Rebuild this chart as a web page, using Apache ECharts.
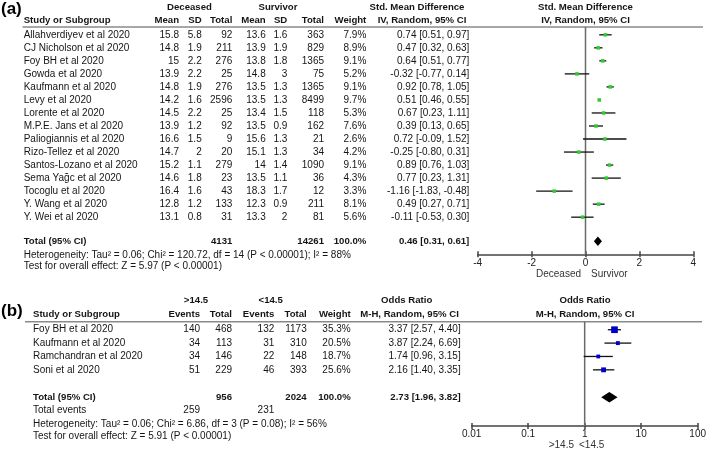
<!DOCTYPE html>
<html><head><meta charset="utf-8">
<script src="https://cdn.jsdelivr.net/npm/echarts@6/dist/echarts.min.js"></script>
<style>html,body{margin:0;padding:0;background:#fff}#c{width:709px;height:453px}</style>
</head><body><div id="c"></div>
<script>
// ---------- Panel (a) data ----------
const studiesA = ["Allahverdiyev et al 2020","CJ Nicholson et al 2020","Foy BH et al 2020","Gowda et al 2020","Kaufmann et al 2020","Levy et al 2020","Lorente et al 2020","M.P.E. Jans et al 2020","Paliogiannis et al 2020","Rizo-Tellez et al 2020","Santos-Lozano et al 2020","Sema Yağc et al 2020","Tocoglu et al 2020","Y. Wang et al 2020","Y. Wei et al 2020"];
const decMean  = [15.8,14.8,15,13.9,14.8,14.2,14.5,13.9,16.6,14.7,15.2,14.6,16.4,12.8,13.1];
const decSD    = [5.8,1.9,2.2,2.2,1.9,1.6,2.2,1.2,1.5,2,1.1,1.8,1.6,1.2,0.8];
const decTotal = [92,211,276,25,276,2596,25,92,9,20,279,23,43,133,31];
const surMean  = [13.6,13.9,13.8,14.8,13.5,13.5,13.4,13.5,15.6,15.1,14,13.5,18.3,12.3,13.3];
const surSD    = [1.6,1.9,1.8,3,1.3,1.3,1.5,0.9,1.3,1.3,1.4,1.1,1.7,0.9,2];
const surTotal = [363,829,1365,75,1365,8499,118,162,21,34,1090,36,12,211,81];
const weightA  = [7.9,8.9,9.1,5.2,9.1,9.7,5.3,7.6,2.6,4.2,9.1,4.3,3.3,8.1,5.6];
const smd      = [0.74,0.47,0.64,-0.32,0.92,0.51,0.67,0.39,0.72,-0.25,0.89,0.77,-1.16,0.49,-0.11];
const smdLo    = [0.51,0.32,0.51,-0.77,0.78,0.46,0.23,0.13,-0.09,-0.80,0.76,0.23,-1.83,0.27,-0.53];
const smdHi    = [0.97,0.63,0.77,0.14,1.05,0.55,1.11,0.65,1.52,0.31,1.03,1.31,-0.48,0.71,0.30];
const totalDecA = 4131, totalSurA = 14261, totalWeightA = 100.0;
const pooledA = [0.46, 0.31, 0.61];
const hetA = "Heterogeneity: Tau\u00b2 = 0.06; Chi\u00b2 = 120.72, df = 14 (P < 0.00001); I\u00b2 = 88%";
const testA = "Test for overall effect: Z = 5.97 (P < 0.00001)";
const ticksA = [-4, -2, 0, 2, 4];
const nullA = 0;

// ---------- Panel (b) data ----------
const studiesB = ["Foy BH et al 2020","Kaufmann et al 2020","Ramchandran et al 2020","Soni et al 2020"];
const hiEvents = [140,34,34,51];
const hiTotal  = [468,113,146,229];
const loEvents = [132,31,22,46];
const loTotal  = [1173,310,148,393];
const weightB  = [35.3,20.5,18.7,25.6];
const orVal    = [3.37,3.87,1.74,2.16];
const orLo     = [2.57,2.24,0.96,1.40];
const orHi     = [4.40,6.69,3.15,3.35];
const totalHiB = 956, totalLoB = 2024, totalWeightB = 100.0;
const totalEventsHi = 259, totalEventsLo = 231;
const pooledB = [2.73, 1.96, 3.82];
const hetB = "Heterogeneity: Tau\u00b2 = 0.06; Chi\u00b2 = 6.86, df = 3 (P = 0.08); I\u00b2 = 56%";
const testB = "Test for overall effect: Z = 5.91 (P < 0.00001)";
const ticksB = [0.01, 0.1, 1, 10, 100];
const nullB = 1;

// ---------- layout ----------
const FONT = '"Liberation Sans", Arial, sans-serif';
const TXT = '#151515';
const yMinA = -0.6, yMaxA = 16.85, yMinB = -0.6, yMaxB = 7.2;
const totalRowA = 15.85, hetRowA = 16.95, testRowA = 17.75;
const totalRowB = 5.05, evRowB = 6.05, hetRowB = 7.05, testRowB = 7.98;

const chart = echarts.init(document.getElementById('c'), null, {renderer:'canvas'});

function ciRender(color, sizeFn) {
  return function (params, api) {
    const y = api.value(1);
    const p = api.coord([api.value(0), y]);
    const l = api.coord([api.value(2), y]);
    const h = api.coord([api.value(3), y]);
    const s = sizeFn(api.value(4));
    return {type:'group', children:[
      {type:'line', shape:{x1:l[0], y1:l[1], x2:h[0], y2:h[1]}, style:{stroke:'#111', lineWidth:1.3}},
      {type:'rect', shape:{x:p[0]-s/2, y:p[1]-s/2, width:s, height:s}, style:{fill:color}}
    ]};
  };
}
function diamondRender(halfRows) {
  return function (params, api) {
    const y = api.value(1);
    const c = api.coord([api.value(0), y]);
    const l = api.coord([api.value(2), y]);
    const h = api.coord([api.value(3), y]);
    const t = api.coord([api.value(0), y - halfRows]);
    const b = api.coord([api.value(0), y + halfRows]);
    return {type:'polygon', shape:{points:[[l[0],c[1]],[t[0],t[1]],[h[0],c[1]],[b[0],b[1]]]}, style:{fill:'#000'}};
  };
}

const axisLabelStyle = {color:'#222', fontSize:10, fontFamily:FONT};
const tickStyle = {color:'#444', width:1.5};

const option = {
  animation:false,
  backgroundColor:'#fff',
  grid:[
    {left:477.7, top:27, width:215.6, height:227.3, containLabel:false},
    {left:471.7, top:321.7, width:229, height:104.3, containLabel:false}
  ],
  xAxis:[
    {gridIndex:0, type:'value', position:'bottom', min:ticksA[0], max:ticksA[ticksA.length-1], interval:2,
     axisLine:{show:true, onZero:false, lineStyle:{color:'#444', width:1.5}},
     axisTick:{show:true, inside:false, length:3, lineStyle:tickStyle},
     axisLabel:{...axisLabelStyle, margin:4}, splitLine:{show:false}},
    {gridIndex:0, type:'value', position:'bottom', min:ticksA[0], max:ticksA[ticksA.length-1], interval:2,
     axisLine:{show:false, onZero:false}, axisTick:{show:true, inside:true, length:3, lineStyle:tickStyle},
     axisLabel:{show:false}, splitLine:{show:false}},
    {gridIndex:1, type:'log', logBase:10, position:'bottom', min:ticksB[0], max:ticksB[ticksB.length-1],
     axisLine:{show:true, onZero:false, lineStyle:{color:'#444', width:1.5}},
     axisTick:{show:true, inside:false, length:3, lineStyle:tickStyle},
     axisLabel:{...axisLabelStyle, margin:3, formatter:(v)=>String(+(+v).toPrecision(3))}, splitLine:{show:false}, minorTick:{show:false}},
    {gridIndex:1, type:'log', logBase:10, position:'bottom', min:ticksB[0], max:ticksB[ticksB.length-1],
     axisLine:{show:false, onZero:false}, axisTick:{show:true, inside:true, length:3, lineStyle:tickStyle},
     axisLabel:{show:false}, splitLine:{show:false}}
  ],
  yAxis:[
    {gridIndex:0, type:'value', min:yMinA, max:yMaxA, inverse:true, show:false},
    {gridIndex:1, type:'value', min:yMinB, max:yMaxB, inverse:true, show:false}
  ],
  series:[
    {type:'line', name:'no effect a', xAxisIndex:0, yAxisIndex:0, symbol:'none', silent:true,
     lineStyle:{color:'#6a6a6a', width:1.5}, data:[[nullA, yMinA],[nullA, yMaxA]], z:1},
    {type:'line', name:'no effect b', xAxisIndex:2, yAxisIndex:1, symbol:'none', silent:true,
     lineStyle:{color:'#6a6a6a', width:1.5}, data:[[nullB, yMinB],[nullB, yMaxB]], z:1},
    {type:'custom', name:'SMD', xAxisIndex:0, yAxisIndex:0,
     encode:{x:[0,2,3], y:1},
     renderItem: ciRender('#2ecc2e', (w)=>3.5),
     data: studiesA.map((s,i)=>[smd[i], i, smdLo[i], smdHi[i], weightA[i]]), z:3},
    {type:'custom', name:'SMD total', xAxisIndex:0, yAxisIndex:0,
     encode:{x:[0,2,3], y:1},
     renderItem: diamondRender(0.36),
     data: [[pooledA[0], totalRowA, pooledA[1], pooledA[2]]], z:4},
    {type:'custom', name:'OR', xAxisIndex:2, yAxisIndex:1,
     encode:{x:[0,2,3], y:1},
     renderItem: ciRender('#0000cc', (w)=>Math.max(3.8, w*0.19)),
     data: studiesB.map((s,i)=>[orVal[i], i, orLo[i], orHi[i], weightB[i]]), z:3},
    {type:'custom', name:'OR total', xAxisIndex:2, yAxisIndex:1,
     encode:{x:[0,2,3], y:1},
     renderItem: diamondRender(0.4),
     data: [[pooledB[0], totalRowB, pooledB[1], pooledB[2]]], z:4}
  ]
};
chart.setOption(option);

// ---------- table text ----------
const G = [];
function txt(text, x, y, align, bold, size, color) {
  G.push({type:'text', x:x, y:y, silent:true,
    style:{text:String(text), x:0, y:0, align:align||'left', verticalAlign:'middle',
      font:(bold?'bold ':'') + (size||10) + 'px ' + FONT, fill:color||TXT}});
}
function hline(x1, x2, y) {
  G.push({type:'line', silent:true, shape:{x1:x1, y1:y, x2:x2, y2:y}, style:{stroke:'#8a8a8a', lineWidth:1.5}});
}
const rowA = (r) => chart.convertToPixel({gridIndex:0}, [0, r])[1];
const rowB = (r) => chart.convertToPixel({gridIndex:1}, [1, r])[1];
const f2 = (v) => v.toFixed(2);
const ci = (e,l,h) => f2(e) + ' [' + f2(l) + ', ' + f2(h) + ']';
const pct = (v) => v.toFixed(1) + '%';

// Panel (a)
txt('(a)', 1, 9.5, 'left', true, 17, '#000');
const colA = [179, 201.7, 232.3, 265.7, 287.3, 324, 366.3, 469.3];
const nameXA = 23.7;
txt('Deceased', 189.5, 7.5, 'center', true, 9.6);
txt('Survivor', 278, 7.5, 'center', true, 9.6);
txt('Std. Mean Difference', 417, 7.5, 'center', true, 9.6);
txt('Std. Mean Difference', 585.5, 7.5, 'center', true, 9.6);
const hdrY_A = 20.5;
txt('Study or Subgroup', nameXA, hdrY_A, 'left', true, 9.6);
['Mean','SD','Total','Mean','SD','Total','Weight'].forEach((h,k)=>txt(h, colA[k], hdrY_A, 'right', true, 9.6));
txt('IV, Random, 95% CI', 422, hdrY_A, 'center', true, 9.6);
txt('IV, Random, 95% CI', 585.5, hdrY_A, 'center', true, 9.6);
hline(22.5, 703, 27);
studiesA.forEach((s,i)=>{
  const y = rowA(i);
  txt(s, nameXA, y, 'left');
  const vals = [decMean[i], decSD[i], decTotal[i], surMean[i], surSD[i], surTotal[i], pct(weightA[i]), ci(smd[i], smdLo[i], smdHi[i])];
  vals.forEach((v,k)=>txt(v, colA[k], y, 'right'));
});
let y = rowA(totalRowA);
txt('Total (95% CI)', nameXA, y, 'left', true, 9.6);
txt(totalDecA, colA[2], y, 'right', true, 9.6);
txt(totalSurA, colA[5], y, 'right', true, 9.6);
txt(pct(totalWeightA), colA[6], y, 'right', true, 9.6);
txt(ci(pooledA[0], pooledA[1], pooledA[2]), colA[7], y, 'right', true, 9.6);
txt(hetA, nameXA, rowA(hetRowA), 'left');
txt(testA, nameXA, rowA(testRowA), 'left');
txt('Deceased', 581, 274.5, 'right', false, 10, '#333');
txt('Survivor', 591, 274.5, 'left', false, 10, '#333');

// Panel (b)
txt('(b)', 1, 311, 'left', true, 17, '#000');
const colB = [200, 232, 274.3, 306.7, 350.7, 460.7];
const nameXB = 33;
txt('>14.5', 196, 300.3, 'center', true, 9.6);
txt('<14.5', 270.7, 300.3, 'center', true, 9.6);
txt('Odds Ratio', 406.7, 300.3, 'center', true, 9.6);
txt('Odds Ratio', 585, 300.3, 'center', true, 9.6);
const hdrY_B = 314.5;
txt('Study or Subgroup', nameXB, hdrY_B, 'left', true, 9.6);
['Events','Total','Events','Total','Weight'].forEach((h,k)=>txt(h, colB[k], hdrY_B, 'right', true, 9.6));
txt('M-H, Random, 95% CI', 409.5, hdrY_B, 'center', true, 9.6);
txt('M-H, Random, 95% CI', 585, hdrY_B, 'center', true, 9.6);
hline(25, 702, 321.7);
studiesB.forEach((s,i)=>{
  const yy = rowB(i);
  txt(s, nameXB, yy, 'left');
  const vals = [hiEvents[i], hiTotal[i], loEvents[i], loTotal[i], pct(weightB[i]), ci(orVal[i], orLo[i], orHi[i])];
  vals.forEach((v,k)=>txt(v, colB[k], yy, 'right'));
});
y = rowB(totalRowB);
txt('Total (95% CI)', nameXB, y, 'left', true, 9.6);
txt(totalHiB, colB[1], y, 'right', true, 9.6);
txt(totalLoB, colB[3], y, 'right', true, 9.6);
txt(pct(totalWeightB), colB[4], y, 'right', true, 9.6);
txt(ci(pooledB[0], pooledB[1], pooledB[2]), colB[5], y, 'right', true, 9.6);
y = rowB(evRowB);
txt('Total events', nameXB, y, 'left');
txt(totalEventsHi, colB[0], y, 'right');
txt(totalEventsLo, colB[2], y, 'right');
txt(hetB, nameXB, rowB(hetRowB), 'left');
txt(testB, nameXB, rowB(testRowB), 'left');
txt('>14.5', 574, 445.5, 'right', false, 10, '#333');
txt('<14.5', 579, 445.5, 'left', false, 10, '#333');

chart.setOption({graphic: G});
</script>
</body></html>
